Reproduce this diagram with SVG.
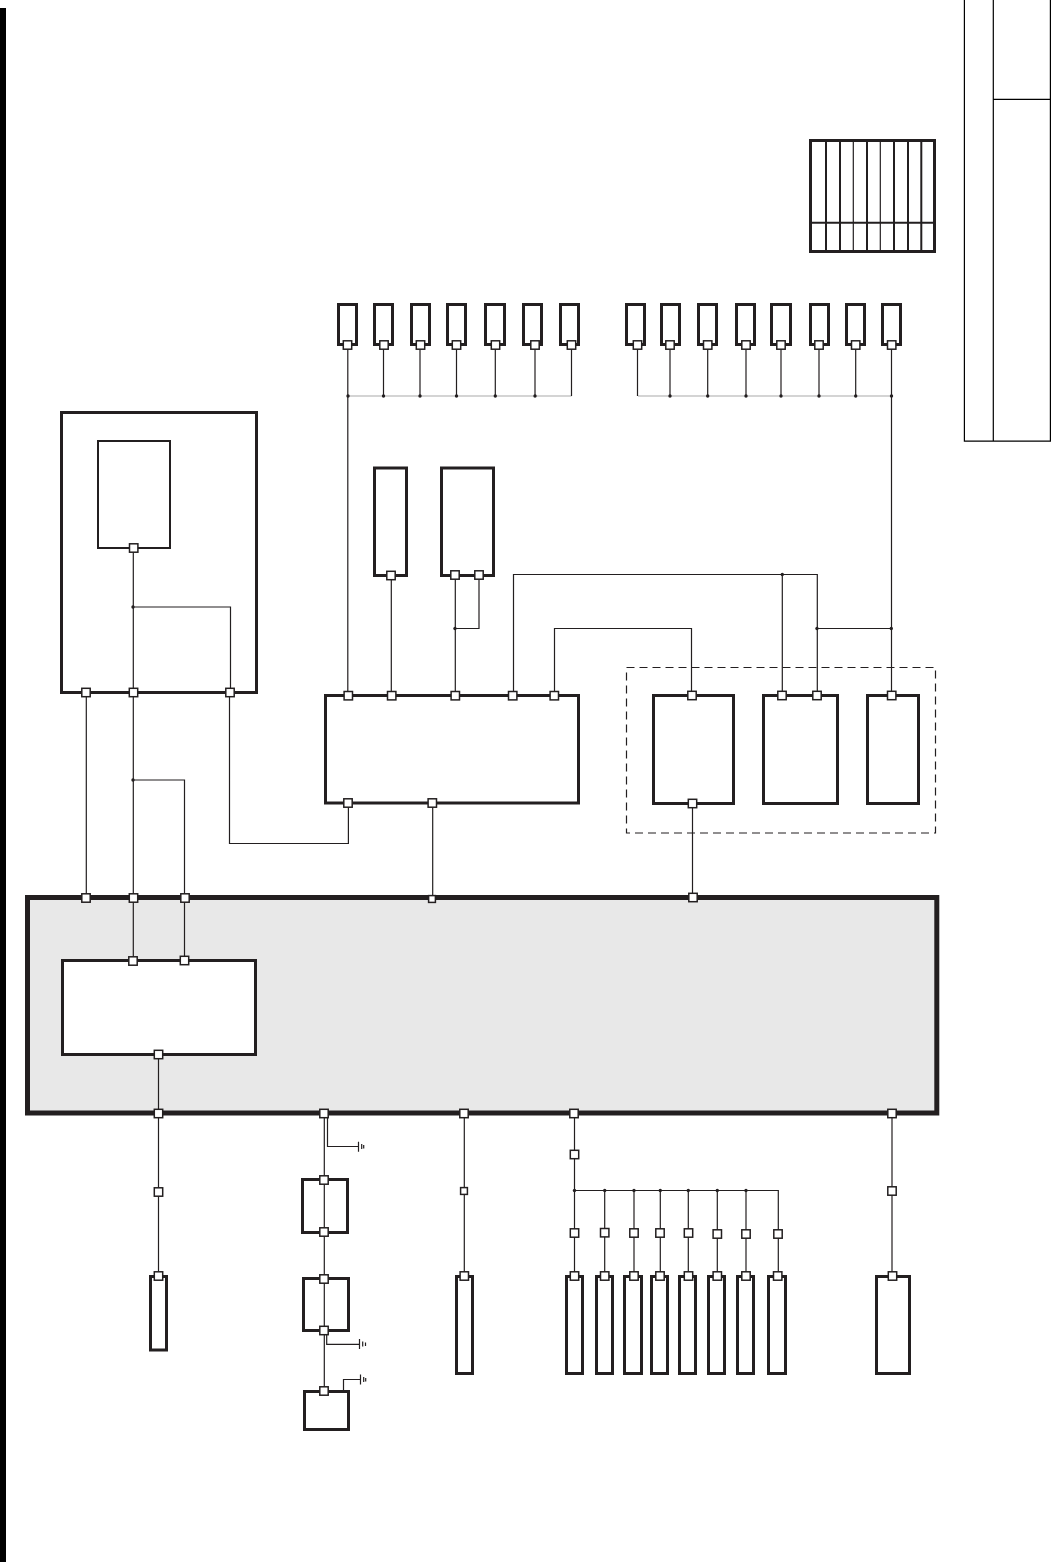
<svg xmlns="http://www.w3.org/2000/svg" width="1051" height="1562" viewBox="0 0 1051 1562">
<style>
.b{fill:#fff;stroke:#231f20;stroke-width:3}
.t{fill:#fff;stroke:#231f20;stroke-width:2}
.p{fill:#fff;stroke:#231f20;stroke-width:1.5}
.c{fill:none;stroke:#231f20;stroke-width:1.2}
.g{fill:none;stroke:#aaa;stroke-width:1.2}
.k{fill:none;stroke:#000;stroke-width:1.2}
.d{fill:#231f20;stroke:none}
.l{stroke:#231f20;fill:none}
</style>
<defs>
<rect id="pt" class="p" x="-4.2" y="-4.2" width="8.4" height="8.4"/>
<rect id="ps" class="p" x="-3.4" y="-3.4" width="6.8" height="6.8"/>
<circle id="dot" class="d" r="1.7"/>
</defs>
<rect id="edge-bar" x="0" y="8" width="6" height="1554" fill="#000"/>
<g id="legend-table">
<rect class="b" x="810.5" y="140.5" width="124" height="111"/>
<path class="l" stroke-width="2" d="M826 141V251M840 141V251M867 141V251M894 141V251M908 141V251M921.3 141V251"/>
<path class="l" stroke-width="1.2" d="M853.3 141V251M880.3 141V251"/>
<path class="l" stroke-width="2" d="M811 222.7H934"/>
</g>
<g id="title-table">
<path class="k" stroke-width="1.4" d="M964.4 0V441.2H1050.4V0M993.3 0V441M993.3 99.3H1050.4"/>
</g>
<g id="group-frame"><rect x="626.5" y="667.5" width="309" height="165.5" fill="none" stroke="#231f20" stroke-width="1.2" stroke-dasharray="8 5"/></g>
<g id="main-panel"><rect x="27.5" y="897.5" width="909.3" height="215.5" fill="#e8e8e8" stroke="#231f20" stroke-width="5"/></g>
<g id="outer-left"><rect class="b" x="61.5" y="412.5" width="195" height="280"/></g>
<g id="inner-left"><rect class="t" x="98" y="441" width="72" height="107"/></g>
<g id="mid-box"><rect class="b" x="325.5" y="695.5" width="253" height="107.5"/></g>
<g id="tall1"><rect class="b" x="374.5" y="468" width="32" height="107.5"/></g>
<g id="tall2"><rect class="b" x="441.5" y="468" width="52" height="107.5"/></g>
<g id="grp-a"><rect class="b" x="653.5" y="695.5" width="80" height="108"/></g>
<g id="grp-b"><rect class="b" x="763.5" y="695.5" width="74" height="108"/></g>
<g id="grp-c"><rect class="b" x="867.5" y="695.5" width="51" height="108"/></g>
<g id="panel-inner"><rect class="b" x="62.5" y="960.5" width="193" height="94"/></g>
<g id="top-row-1">
<rect class="b" x="338.5" y="304.5" width="18" height="40"/>
<rect class="b" x="374.5" y="304.5" width="18" height="40"/>
<rect class="b" x="411.5" y="304.5" width="18" height="40"/>
<rect class="b" x="447.5" y="304.5" width="18" height="40"/>
<rect class="b" x="485.5" y="304.5" width="19" height="40"/>
<rect class="b" x="523.5" y="304.5" width="18" height="40"/>
<rect class="b" x="560.5" y="304.5" width="18" height="40"/>
</g>
<g id="top-row-2">
<rect class="b" x="626.5" y="304.5" width="18" height="40"/>
<rect class="b" x="661.5" y="304.5" width="18" height="40"/>
<rect class="b" x="698.5" y="304.5" width="18" height="40"/>
<rect class="b" x="736.5" y="304.5" width="18" height="40"/>
<rect class="b" x="771.5" y="304.5" width="19" height="40"/>
<rect class="b" x="810.5" y="304.5" width="18" height="40"/>
<rect class="b" x="846.5" y="304.5" width="18" height="40"/>
<rect class="b" x="882.5" y="304.5" width="18" height="40"/>
</g>
<g id="bottom-row">
<rect class="b" x="150.5" y="1276.5" width="16" height="73.5"/>
<rect class="b" x="302.5" y="1179.5" width="45" height="53"/>
<rect class="b" x="303.5" y="1278.5" width="45" height="52"/>
<rect class="b" x="304.5" y="1391.5" width="44" height="38"/>
<rect class="b" x="456.5" y="1276.5" width="16" height="97"/>
<rect class="b" x="566.5" y="1276.5" width="16" height="97"/>
<rect class="b" x="596.5" y="1276.5" width="16" height="97"/>
<rect class="b" x="624.5" y="1276.5" width="17" height="97"/>
<rect class="b" x="651.5" y="1276.5" width="16" height="97"/>
<rect class="b" x="679.5" y="1276.5" width="16" height="97"/>
<rect class="b" x="708.5" y="1276.5" width="16" height="97"/>
<rect class="b" x="737.5" y="1276.5" width="16" height="97"/>
<rect class="b" x="768.5" y="1276.5" width="17" height="97"/>
<rect class="b" x="876.5" y="1276.5" width="33" height="97"/>
</g>
<g id="connectors">
<path class="g" d="M348 396H571.5M638 396H891.5"/>
<path class="c" d="M347.8 345V695M383.5 345V396M420 345V396M456.5 345V396M495.3 345V396M535 345V396M571.5 345V396"/>
<path class="c" d="M637.5 345V396M670 345V396M707.7 345V396M746 345V396M781 345V396M819 345V396M855.7 345V396M891.5 345V695"/>
<path class="c" d="M133.3 548V960M133 607H230.5V692M133 780H184.5V960M86.3 692V898M229.5 692V843.5H348.4V803M432.7 803V898"/>
<path class="c" d="M391.3 575V695M455.3 575V695M455 628.5H479V575M513.5 695V574.5H817.3V695M782.3 574.5V695M554.5 695V628.5H691.5V695"/>
<path class="l" stroke="#666" stroke-width="1.2" d="M817 628.5H891"/>
<path class="c" d="M692.5 803V897"/>
<path class="c" d="M158.5 1054V1276M324.3 1113V1391M464.3 1113V1276M574.5 1113V1276M892 1113V1276"/>
<path class="c" d="M574.5 1190.5H778.3V1276M604.7 1190.5V1276M634 1190.5V1276M660.3 1190.5V1276M688.3 1190.5V1276M717.3 1190.5V1276M746 1190.5V1276"/>
<path class="c" d="M327.5 1115V1146.5H358.5M326.7 1335V1344.3H359.5M343.5 1390V1379.5H360.5"/>
<path class="c" d="M358.5 1141.7V1151.7M359.5 1339V1349M360.5 1374.5V1384.5"/>
<path class="c" d="M361.7 1144V1149M363.7 1145V1148.5M362.7 1341.5V1346.5M365.5 1342.5V1346M363.7 1377V1382M365.7 1378V1381.5"/>
</g>
<g id="junctions">
<use href="#dot" x="348" y="396"/><use href="#dot" x="383.5" y="396"/><use href="#dot" x="420" y="396"/><use href="#dot" x="456.5" y="396"/><use href="#dot" x="495.3" y="396"/><use href="#dot" x="535" y="396"/>
<use href="#dot" x="670" y="396"/><use href="#dot" x="707.7" y="396"/><use href="#dot" x="746" y="396"/><use href="#dot" x="781" y="396"/><use href="#dot" x="819" y="396"/><use href="#dot" x="855.7" y="396"/><use href="#dot" x="891.5" y="396"/>
<use href="#dot" x="133" y="607"/><use href="#dot" x="133" y="780"/><use href="#dot" x="455" y="628.5"/><use href="#dot" x="782.3" y="574.5"/><use href="#dot" x="817" y="628.5"/><use href="#dot" x="891.3" y="628.5"/>
<use href="#dot" x="574.5" y="1190.5"/><use href="#dot" x="604.7" y="1190.5"/><use href="#dot" x="634" y="1190.5"/><use href="#dot" x="660.3" y="1190.5"/><use href="#dot" x="688.3" y="1190.5"/><use href="#dot" x="717.3" y="1190.5"/><use href="#dot" x="746" y="1190.5"/>
</g>
<g id="ports">
<use href="#pt" x="347.5" y="345"/><use href="#pt" x="384" y="345"/><use href="#pt" x="420.5" y="345"/><use href="#pt" x="456.5" y="345"/><use href="#pt" x="495.5" y="345"/><use href="#pt" x="535" y="345"/><use href="#pt" x="571.5" y="345"/>
<use href="#pt" x="637.5" y="345"/><use href="#pt" x="670" y="345"/><use href="#pt" x="707.7" y="345"/><use href="#pt" x="746" y="345"/><use href="#pt" x="781" y="345"/><use href="#pt" x="819" y="345"/><use href="#pt" x="855.7" y="345"/><use href="#pt" x="891.7" y="345"/>
<use href="#pt" x="133.7" y="548"/><use href="#pt" x="86" y="692.5"/><use href="#pt" x="133.5" y="692.5"/><use href="#pt" x="230" y="692.5"/>
<use href="#pt" x="391" y="575.5"/><use href="#pt" x="455" y="575"/><use href="#pt" x="479" y="575"/>
<use href="#pt" x="348.3" y="695.7"/><use href="#pt" x="391.7" y="695.7"/><use href="#pt" x="455.3" y="695.7"/><use href="#pt" x="512.7" y="695.7"/><use href="#pt" x="554.3" y="695.7"/><use href="#pt" x="348" y="803"/><use href="#pt" x="432.3" y="803"/>
<use href="#pt" x="692" y="695.5"/><use href="#pt" x="692.5" y="803.5"/><use href="#pt" x="782" y="695.5"/><use href="#pt" x="817" y="695.5"/><use href="#pt" x="891.7" y="695.5"/>
<use href="#pt" x="86" y="898"/><use href="#pt" x="133.5" y="898"/><use href="#pt" x="185" y="898"/><use href="#ps" x="432" y="899"/><use href="#pt" x="693" y="897.5"/>
<use href="#pt" x="133" y="961"/><use href="#pt" x="184.5" y="960.5"/><use href="#pt" x="158.5" y="1054.5"/>
<use href="#pt" x="158.5" y="1113.5"/><use href="#pt" x="324" y="1113.5"/><use href="#pt" x="464" y="1113.5"/><use href="#pt" x="574" y="1113.5"/><use href="#pt" x="892" y="1113.5"/>
<use href="#pt" x="158.5" y="1192"/><use href="#pt" x="158.5" y="1276"/>
<use href="#pt" x="324" y="1180"/><use href="#pt" x="324" y="1232"/><use href="#pt" x="324" y="1279"/><use href="#pt" x="324" y="1330.5"/><use href="#pt" x="324" y="1391"/>
<use href="#ps" x="464" y="1191"/><use href="#pt" x="464.3" y="1276"/>
<use href="#pt" x="574.5" y="1154.5"/>
<use href="#pt" x="574.5" y="1233"/><use href="#pt" x="604.7" y="1232.7"/><use href="#pt" x="634" y="1233"/><use href="#pt" x="660" y="1233"/><use href="#pt" x="688.5" y="1233"/><use href="#pt" x="717.3" y="1234"/><use href="#pt" x="746" y="1234"/><use href="#pt" x="778" y="1234"/>
<use href="#pt" x="574.5" y="1276"/><use href="#pt" x="604.7" y="1276"/><use href="#pt" x="634" y="1276"/><use href="#pt" x="660" y="1276"/><use href="#pt" x="688.5" y="1276"/><use href="#pt" x="717.3" y="1276"/><use href="#pt" x="746" y="1276"/><use href="#pt" x="777.7" y="1276"/>
<use href="#pt" x="892" y="1191"/><use href="#pt" x="892.5" y="1276"/>
</g>
</svg>
